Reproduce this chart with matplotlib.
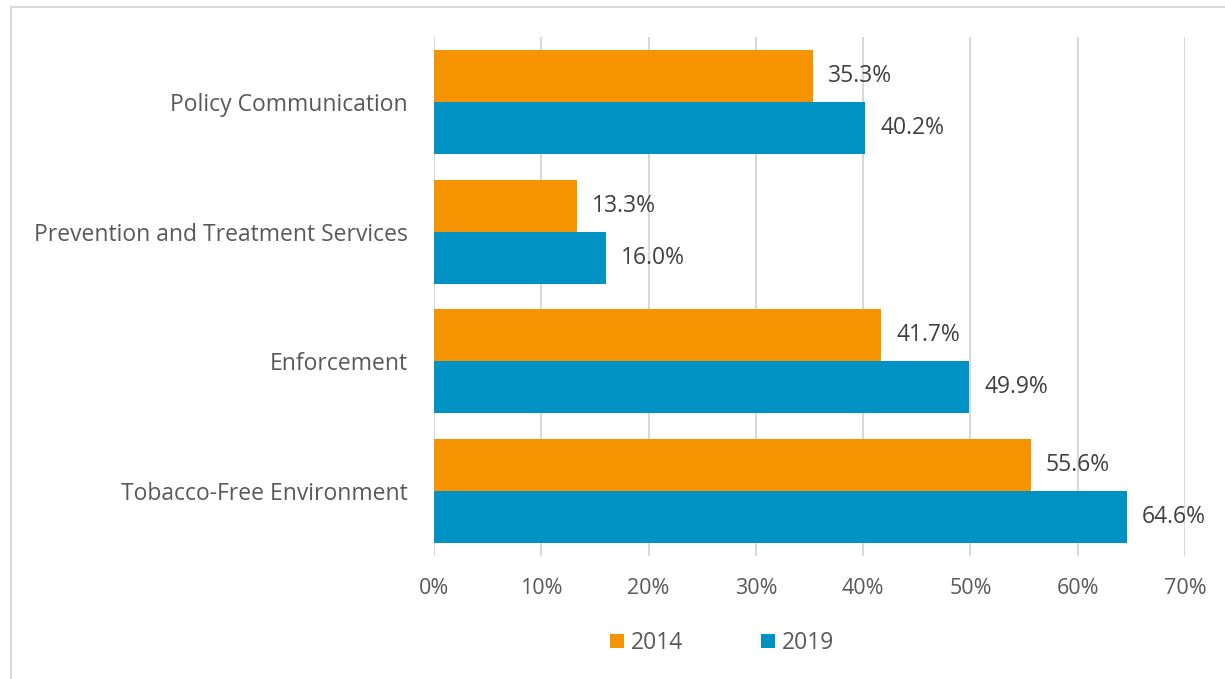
import matplotlib
matplotlib.use("Agg")
import matplotlib.pyplot as plt
from matplotlib.patches import Rectangle

categories = ["Policy Communication", "Prevention and Treatment Services",
              "Enforcement", "Tobacco-Free Environment"]
values_2014 = [35.3, 13.3, 41.7, 55.6]
values_2019 = [40.2, 16.0, 49.9, 64.6]
series_names = ["2014", "2019"]
xticks = [0, 10, 20, 30, 40, 50, 60, 70]

c2014 = "#F59300"
c2019 = "#0092C3"

plt.rcParams['font.family'] = ['Open Sans', 'DejaVu Sans']

W, H = 1225, 679
fig = plt.figure(figsize=(W/100, H/100), dpi=100)
ax = fig.add_axes([434/W, 1-556/H, (1185-434)/W, (556-37)/H])

n = len(categories)
ypos = list(range(n))
bh = 0.4
b1 = ax.barh([y - bh/2 for y in ypos], values_2014, height=bh, color=c2014, label=series_names[0])
b2 = ax.barh([y + bh/2 for y in ypos], values_2019, height=bh, color=c2019, label=series_names[1])

for bars, vals in ((b1, values_2014), (b2, values_2019)):
    for rect, v in zip(bars, vals):
        ax.annotate(f"{v:.1f}%", (v, rect.get_y() + rect.get_height()/2),
                    xytext=(15, 0), textcoords="offset pixels",
                    va="center", ha="left", fontsize=16.5, color="#404040")

ax.set_ylim(n - 0.5, -0.5)
ax.set_xlim(0, 70)
ax.set_yticks(ypos)
ax.set_yticklabels(categories, fontsize=16.5, color="#595959")
ax.set_xticks(xticks)
ax.set_xticklabels([f"{t}%" for t in xticks], fontsize=15.5, color="#595959")
ax.tick_params(axis='both', length=0)
ax.tick_params(axis='y', pad=19)
ax.tick_params(axis='x', pad=16)
ax.grid(axis='x', color="#D9D9D9", linewidth=1.5)
ax.set_axisbelow(True)
for s in ax.spines.values():
    s.set_visible(False)

leg = fig.legend(handles=[b1, b2], labels=series_names, loc="center",
                 bbox_to_anchor=(722/W, 1-643/H), ncol=2, frameon=False,
                 fontsize=16.5, handlelength=0.6, handleheight=0.6,
                 handletextpad=0.3, columnspacing=3.4)
for t in leg.get_texts():
    t.set_color("#595959")

fig.patches.append(Rectangle((11/W, -0.05), 1.1, 1 - 7/H + 0.05,
                             transform=fig.transFigure, fill=False,
                             edgecolor="#D9D9D9", linewidth=1.5))

fig.savefig("out.png", dpi=100, facecolor="white")
